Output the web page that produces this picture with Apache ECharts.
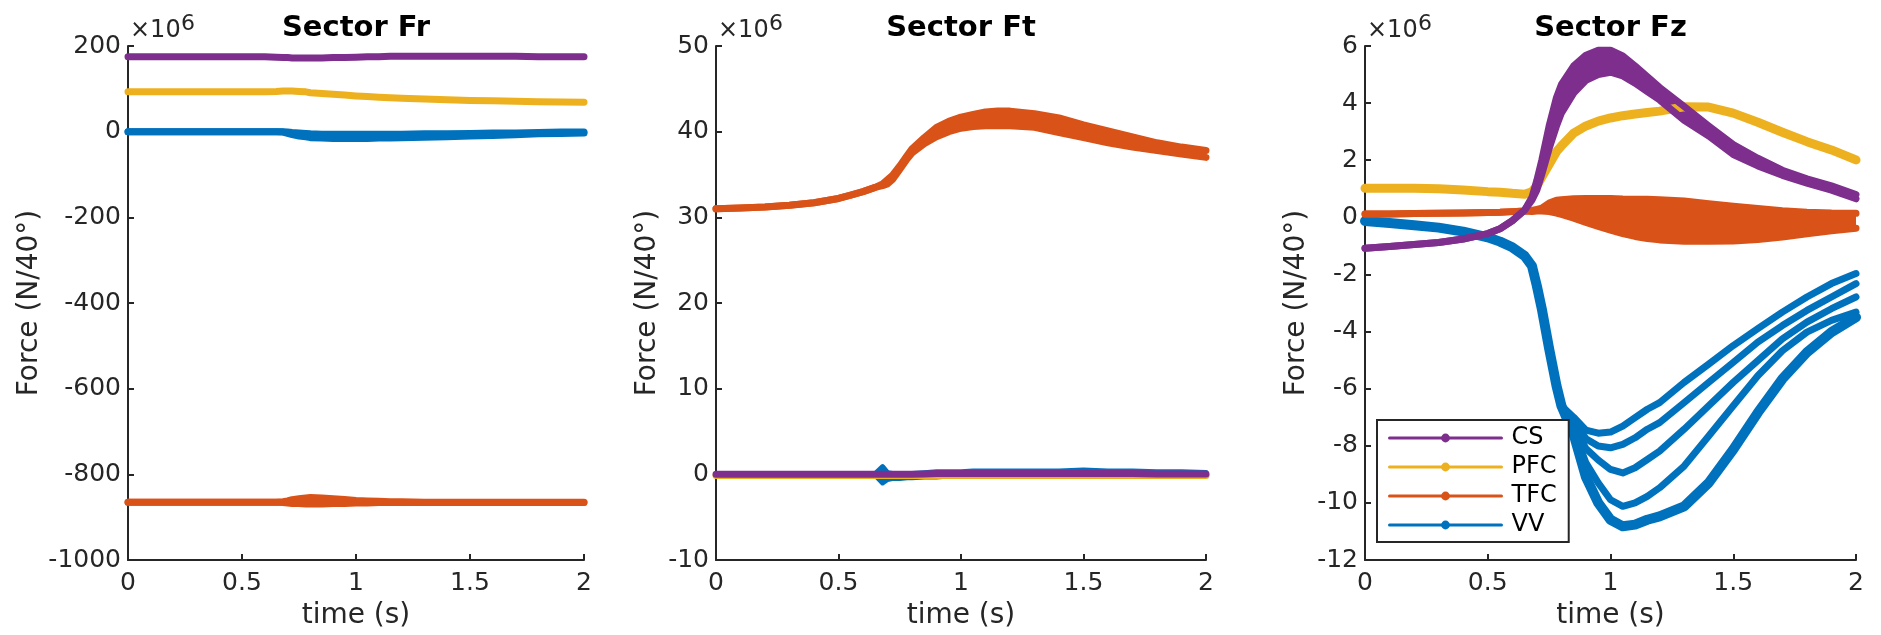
<!DOCTYPE html>
<html><head><meta charset="utf-8">
<script src="https://cdn.jsdelivr.net/npm/echarts@6/dist/echarts.min.js"></script>
<style>html,body{margin:0;padding:0;background:#fff}#c{width:1881px;height:635px}</style>
</head><body><div id="c"></div><script>
// time samples (s)
const T = [0,0.1,0.2,0.3,0.4,0.5,0.55,0.6,0.65,0.68,0.7,0.72,0.75,0.78,0.8,0.85,0.9,0.95,1.0,1.05,1.1,1.15,1.2,1.3,1.4,1.5,1.6,1.7,1.8,1.9,2.0];
const xTickLabels = ['0','0.5','1','1.5','2'];
const titles = ['Sector Fr','Sector Ft','Sector Fz'];
const legendNames = ['CS','PFC','TFC','VV'];

// ---- Sector Fr (x1e6 N/40deg)
const frYTicks = ['-1000','-800','-600','-400','-200','0','200'];
const frCS   = [175,175,175,175,175,175,175,175,174,173,173,172,172,172,172,172,173,173,174,175,175,176,176,176,176,176,176,176,175,175,175];
const frPFC  = [93,93,93,93,93,93,93,93,94,95,95,95,94,93,91,89,87.5,85.5,83.5,82,80.5,79,78,76,74.5,73,72,71,70,69,68.5];
const frTFCup= [-865,-865,-865,-865,-865,-865,-865,-865,-865,-864,-862,-859,-857,-855,-854,-855,-857,-859,-861,-862,-863,-864,-864,-865,-865,-865,-865,-865,-865,-865,-865];
const frTFClo= [-865,-865,-865,-865,-865,-865,-865,-865,-865,-866,-867,-868,-868,-869,-869,-869,-868,-868,-867,-867,-866,-866,-866,-866,-866,-866,-866,-866,-866,-866,-866];
const frVVup = [0,0,0,0,0,0,0,0,0,0,-1,-2,-3,-4,-5,-6,-6,-6,-6,-6,-6,-6,-6,-5,-5,-4,-3,-3,-2,-1,-1];
const frVVlo = [0,0,0,0,0,0,0,0,0,-1,-4,-7,-10,-12,-14,-15,-16,-16,-16,-16,-15,-15,-14,-13,-12,-10,-9,-7,-5,-4,-3];

// ---- Sector Ft
const ftYTicks = ['-10','0','10','20','30','40','50'];
const ftTFCup= [31.0,31.1,31.2,31.4,31.7,32.2,32.6,33.0,33.5,33.9,34.4,34.9,36.0,37.2,38.0,39.3,40.5,41.2,41.7,42.0,42.3,42.4,42.4,42.1,41.6,40.8,40.1,39.4,38.7,38.2,37.8];
const ftTFClo= [31.0,31.1,31.2,31.4,31.7,32.2,32.6,33.0,33.5,33.7,33.9,34.4,35.6,36.8,37.5,38.6,39.4,40.0,40.4,40.6,40.7,40.7,40.7,40.5,39.9,39.3,38.7,38.2,37.8,37.4,37.0];
const ftCS   = [0,0,0,0,0,0,0,0,0,0,0,0,0,0,0,0.05,0.1,0.1,0.1,0.1,0.1,0.1,0.1,0.1,0.1,0.1,0.1,0.1,0.05,0.05,0.05];
const ftPFC  = [-0.15,-0.15,-0.15,-0.15,-0.15,-0.15,-0.15,-0.15,-0.15,-0.15,-0.15,-0.15,-0.15,-0.15,-0.15,-0.15,-0.15,-0.15,-0.15,-0.15,-0.15,-0.15,-0.15,-0.15,-0.15,-0.15,-0.15,-0.15,-0.15,-0.15,-0.15];
const ftVVup = [0,0,0,0,0,0,0,0,0.1,0.9,0.2,0.1,0.1,0.1,0.1,0.2,0.3,0.3,0.3,0.4,0.4,0.4,0.4,0.4,0.4,0.5,0.4,0.4,0.3,0.3,0.2];
const ftVVlo = [0,0,0,0,0,0,0,0,-0.1,-1.0,-0.6,-0.5,-0.5,-0.4,-0.4,-0.3,-0.3,-0.2,-0.2,-0.1,-0.1,0,0,0,0,0,0,0,0,0,0];

// ---- Sector Fz
const fzYTicks = ['-12','-10','-8','-6','-4','-2','0','2','4','6'];
const fzCSup = [-1.08,-1.02,-0.95,-0.88,-0.76,-0.57,-0.4,-0.12,0.25,0.7,1.3,2.0,3.2,4.2,4.65,5.3,5.68,5.85,5.85,5.65,5.3,4.93,4.55,3.88,3.2,2.55,2.07,1.65,1.35,1.1,0.8];
const fzCSlo = [-1.08,-1.02,-0.95,-0.88,-0.76,-0.57,-0.4,-0.12,0.25,0.6,0.95,1.5,2.4,3.2,3.65,4.35,4.8,5.0,5.08,4.95,4.7,4.4,4.11,3.4,2.85,2.2,1.8,1.47,1.2,0.95,0.65];
const fzPFC  = [1.02,1.02,1.02,1.0,0.96,0.9,0.88,0.84,0.81,0.9,1.1,1.4,1.85,2.3,2.5,2.95,3.2,3.37,3.48,3.56,3.62,3.67,3.72,3.87,3.86,3.65,3.33,2.98,2.65,2.36,2.01];
const fzTFCup= [0.12,0.12,0.13,0.14,0.15,0.17,0.18,0.2,0.22,0.24,0.28,0.32,0.5,0.6,0.62,0.65,0.66,0.66,0.66,0.64,0.63,0.63,0.62,0.57,0.48,0.39,0.31,0.23,0.18,0.15,0.14];
const fzTFClo= [0.12,0.12,0.13,0.14,0.15,0.17,0.18,0.2,0.22,0.2,0.22,0.22,0.2,0.15,0.1,-0.03,-0.18,-0.32,-0.45,-0.57,-0.67,-0.74,-0.79,-0.84,-0.84,-0.83,-0.78,-0.69,-0.58,-0.47,-0.38];
const fzVVa  = [-0.13,-0.2,-0.28,-0.36,-0.5,-0.7,-0.85,-1.05,-1.35,-1.7,-2.4,-3.2,-4.6,-5.9,-6.6,-7.0,-7.45,-7.56,-7.52,-7.31,-7.01,-6.72,-6.49,-5.78,-5.14,-4.49,-3.9,-3.32,-2.79,-2.32,-1.97];
const fzVVb  = [-0.13,-0.2,-0.28,-0.36,-0.5,-0.7,-0.85,-1.05,-1.35,-1.7,-2.4,-3.2,-4.6,-5.9,-6.6,-7.15,-7.75,-8.01,-8.07,-7.95,-7.72,-7.42,-7.19,-6.49,-5.78,-5.08,-4.37,-3.79,-3.26,-2.79,-2.32];
const fzVVc  = [-0.13,-0.2,-0.28,-0.36,-0.5,-0.7,-0.85,-1.05,-1.35,-1.7,-2.4,-3.2,-4.6,-5.9,-6.6,-7.3,-8.1,-8.5,-8.83,-8.95,-8.77,-8.48,-8.19,-7.42,-6.6,-5.78,-5.02,-4.26,-3.67,-3.2,-2.79];
const fzVVd  = [-0.13,-0.2,-0.28,-0.36,-0.5,-0.7,-0.85,-1.05,-1.35,-1.7,-2.4,-3.2,-4.6,-5.9,-6.6,-7.45,-8.6,-9.3,-9.89,-10.12,-10.0,-9.77,-9.47,-8.71,-7.66,-6.6,-5.55,-4.67,-4.02,-3.61,-3.32];
const fzVVe  = [-0.13,-0.2,-0.28,-0.36,-0.5,-0.7,-0.85,-1.05,-1.35,-1.7,-2.4,-3.2,-4.6,-5.9,-6.6,-7.6,-9.1,-10.0,-10.59,-10.82,-10.76,-10.59,-10.47,-10.12,-9.3,-8.13,-6.84,-5.66,-4.73,-4.02,-3.5];

const FONT = 'DejaVu Sans';
const AX = '#262626';
const COL = {CS:'#7E2F8E', PFC:'#EDB120', TFC:'#D95319', VV:'#0072BD'};
const grids = [
  {left:128, top:46, width:456, height:518},
  {left:716, top:46, width:490, height:518},
  {left:1365, top:46, width:491, height:518}
];
const yCfg = [
  {min:-1000, max:200, interval:200, labels:frYTicks, gap:84},
  {min:-10, max:50, interval:10, labels:ftYTicks, gap:54},
  {min:-12, max:6, interval:2, labels:fzYTicks, gap:54}
];

function pts(vals){ return T.map((t,i)=>[t, vals[i]]); }
function line(name, g, vals, w){
  const color = COL[name];
  return {type:'line', name, xAxisIndex:g, yAxisIndex:g, data:pts(vals), showSymbol:false,
    symbol:'circle', symbolSize:9, lineStyle:{color, width:w||7, cap:'round', join:'round'},
    itemStyle:{color}, emphasis:{disabled:true}, silent:true, animation:false};
}
function band(name, g, up, lo){
  const color = COL[name];
  return {type:'custom', name:name+' band', xAxisIndex:g, yAxisIndex:g, data:[[T[0], up[0]]],
    silent:true, animation:false,
    renderItem:(params, api)=>{
      const p=[];
      for(let i=0;i<T.length;i++) p.push(api.coord([T[i], up[i]]));
      for(let i=T.length-1;i>=0;i--) p.push(api.coord([T[i], lo[i]]));
      return {type:'polygon', shape:{points:p}, style:{fill:color}};
    }};
}

const series = [
  // Fr
  band('VV',0,frVVup,frVVlo), line('VV',0,frVVup), line('VV',0,frVVlo),
  band('TFC',0,frTFCup,frTFClo), line('TFC',0,frTFCup), line('TFC',0,frTFClo),
  line('PFC',0,frPFC), line('CS',0,frCS),
  // Ft
  band('VV',1,ftVVup,ftVVlo), line('VV',1,ftVVup,5), line('VV',1,ftVVlo,5),
  band('TFC',1,ftTFCup,ftTFClo), line('TFC',1,ftTFCup), line('TFC',1,ftTFClo),
  line('PFC',1,ftPFC), line('CS',1,ftCS),
  // Fz
  line('VV',2,fzVVa), line('VV',2,fzVVb), line('VV',2,fzVVc), line('VV',2,fzVVd), line('VV',2,fzVVe,10),
  band('TFC',2,fzTFCup,fzTFClo), line('TFC',2,fzTFCup), line('TFC',2,fzTFClo),
  line('PFC',2,fzPFC,9),
  band('CS',2,fzCSup,fzCSlo), line('CS',2,fzCSup), line('CS',2,fzCSlo)
];

const xAxis = grids.map((g,i)=>({
  type:'value', gridIndex:i, min:0, max:2, interval:0.5,
  axisLine:{show:true, onZero:false, lineStyle:{color:AX, width:2}},
  axisTick:{show:true, inside:true, length:6, lineStyle:{color:AX, width:2}},
  axisLabel:{color:AX, fontSize:25, fontFamily:FONT, margin:11, showMinLabel:true, showMaxLabel:true,
    formatter:(v)=>xTickLabels[Math.round(v/0.5)]},
  splitLine:{show:false},
  name:'time (s)', nameLocation:'middle', nameGap:42,
  nameTextStyle:{color:AX, fontSize:28, fontFamily:FONT}
}));
const yAxis = yCfg.map((c,i)=>({
  type:'value', gridIndex:i, min:c.min, max:c.max, interval:c.interval,
  axisLine:{show:true, onZero:false, lineStyle:{color:AX, width:2}},
  axisTick:{show:true, inside:true, length:6, lineStyle:{color:AX, width:2}},
  axisLabel:{color:AX, fontSize:25, fontFamily:FONT, margin:7, showMinLabel:true, showMaxLabel:true,
    formatter:(v)=>c.labels[Math.round((v-c.min)/c.interval)]},
  splitLine:{show:false},
  name:'Force (N/40°)', nameLocation:'middle', nameGap:c.gap, nameRotate:90,
  nameTextStyle:{color:AX, fontSize:28, fontFamily:FONT}
}));

const graphic = [];
grids.forEach((g,i)=>{
  graphic.push({type:'text', x:g.left+g.width/2, y:28, silent:true,
    style:{text:titles[i], font:'bold 29px "'+FONT+'"', fill:'#000', align:'center', verticalAlign:'middle'}});
  graphic.push({type:'text', x:g.left+2, y:31, silent:true,
    style:{text:'×10', font:'24px "'+FONT+'"', fill:AX, align:'left', verticalAlign:'middle'}});
  graphic.push({type:'text', x:g.left+53, y:24, silent:true,
    style:{text:'6', font:'22px "'+FONT+'"', fill:AX, align:'left', verticalAlign:'middle'}});
});

const chart = echarts.init(document.getElementById('c'), null, {renderer:'canvas', width:1881, height:635});
chart.setOption({
  animation:false,
  backgroundColor:'#fff',
  textStyle:{fontFamily:FONT},
  grid:grids,
  xAxis, yAxis, series, graphic,
  legend:{
    data:legendNames, orient:'vertical', left:1377, top:420,
    padding:[6,12,5,11], itemGap:5, itemWidth:112, itemHeight:11,
    backgroundColor:'#fff', borderColor:AX, borderWidth:2,
    lineStyle:{width:3}, selectedMode:false,
    textStyle:{fontSize:24, fontFamily:FONT, color:'#000', padding:[0,0,0,5]}
  }
});
</script></body></html>
